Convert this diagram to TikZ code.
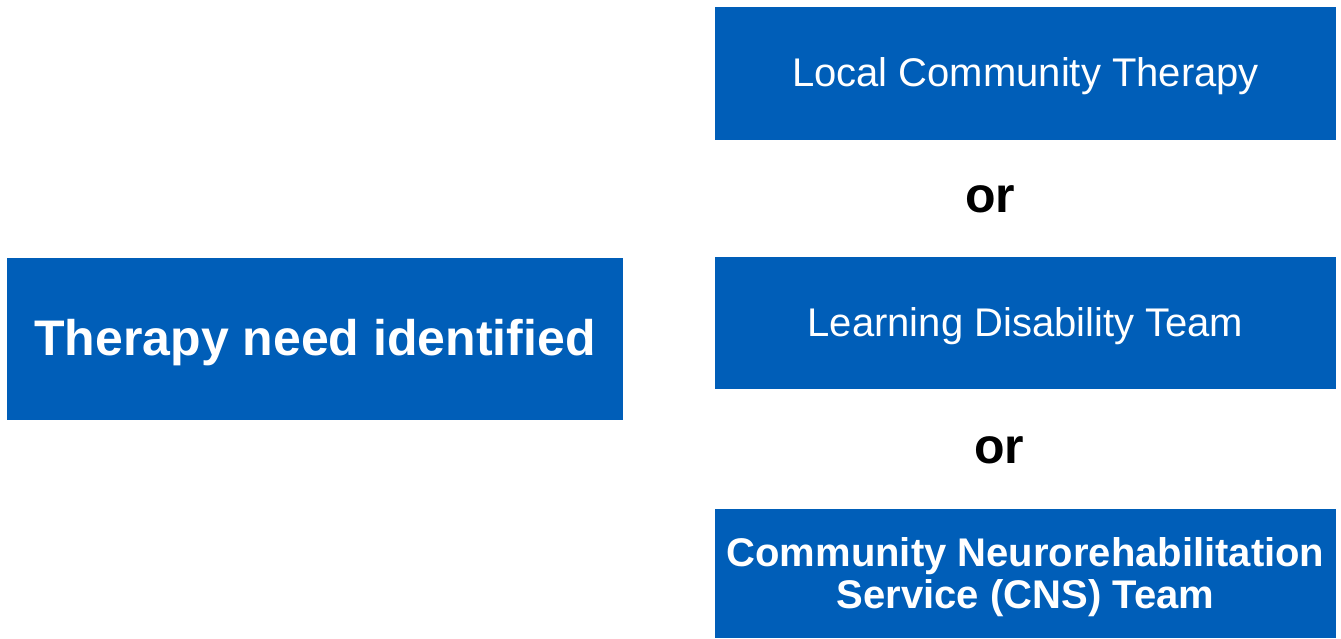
\documentclass[tikz,border=0pt]{standalone}
\usepackage{fontspec}
\setmainfont{Liberation Sans}
\definecolor{nhsblue}{HTML}{005EB8}
\begin{document}
\begin{tikzpicture}[x=1pt,y=-1pt,
  bluebox/.style={fill=nhsblue,draw=none,inner sep=0pt},
  boxtext/.style={text=white,inner sep=0pt,align=center},
  ortext/.style={text=black,inner sep=0pt,font=\fontsize{50}{55}\selectfont\bfseries}]
\useasboundingbox (0,0) rectangle (1341,638);
\fill[white] (0,0) rectangle (1341,638);
\node[bluebox,minimum width=616pt,minimum height=162pt] (need) at (315,339) {};
\node[bluebox,minimum width=621pt,minimum height=133pt] (local) at (1025.5,73.5) {};
\node[bluebox,minimum width=621pt,minimum height=132pt] (ld) at (1025.5,323) {};
\node[bluebox,minimum width=621pt,minimum height=129pt] (cns) at (1025.5,573.5) {};
\node[boxtext,font=\fontsize{50}{55}\selectfont\bfseries] (needtext) at ([yshift=-4pt]need.center) {Therapy need identified};
\node[boxtext,font=\fontsize{40}{44}\selectfont] (localtext) at ([yshift=-3pt]local.center) {Local Community Therapy};
\node[boxtext,font=\fontsize{40}{44}\selectfont] (ldtext) at ([yshift=-3pt]ld.center) {Learning Disability Team};
\node[boxtext,font=\fontsize{40}{42}\selectfont\bfseries] (cnstext) at ([yshift=-4pt]cns.center) {Community Neurorehabilitation\\Service (CNS) Team};
\node[ortext,anchor=base] (or1) at (990,212) {or};
\node[ortext,anchor=base] (or2) at (999,463) {or};
\end{tikzpicture}
\end{document}
